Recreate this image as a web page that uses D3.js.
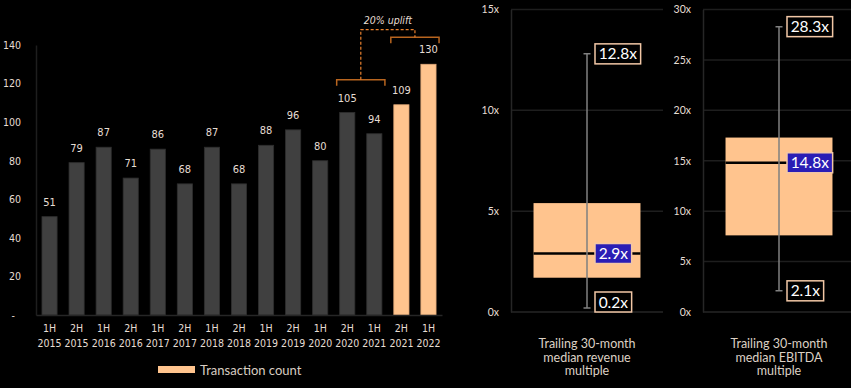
<!DOCTYPE html>
<html lang="en">
<head>
<meta charset="UTF-8">
<title>Transactions and multiples</title>
<script src="https://d3js.org/d3.v7.min.js"></script>
<style>
  body { margin: 0; background: #000; }
  svg { display: block; background: #000; }
  .tahoma { font-family: "DejaVu Sans Condensed", "DejaVu Sans", sans-serif; }
  .gill { font-family: Lato, "Open Sans", sans-serif; }
</style>
</head>
<body>
<script>
// bar chart data
const periods = ['1H 2015', '2H 2015', '1H 2016', '2H 2016', '1H 2017', '2H 2017', '1H 2018', '2H 2018',
                 '1H 2019', '2H 2019', '1H 2020', '2H 2020', '1H 2021', '2H 2021', '1H 2022'];
const counts = [51, 79, 87, 71, 86, 68, 87, 68, 88, 96, 80, 105, 94, 109, 130];
const highlighted = ['2H 2021', '1H 2022'];
const countTicks = [0, 20, 40, 60, 80, 100, 120, 140];
const legendLabel = 'Transaction count';
const upliftLabel = '20% uplift';
const upliftFrom = ['2H 2020', '1H 2021'];
const upliftTo = ['2H 2021', '1H 2022'];

// box plot data
const boxCategories = [['Trailing 30-month', 'median revenue', 'multiple'],
                       ['Trailing 30-month', 'median EBITDA', 'multiple']];
const boxMin = [0.2, 2.1];
const boxQ1 = [1.7, 7.6];
const boxMedian = [2.9, 14.8];
const boxQ3 = [5.4, 17.3];
const boxMax = [12.8, 28.3];
const boxTicks = [[0, 5, 10, 15], [0, 5, 10, 15, 20, 25, 30]];

const W = 851, H = 388;
const peach = '#ffc48e';
const grey = '#404040';
const textCol = '#e6ddd3';

const svg = d3.select('body').append('svg').attr('width', W).attr('height', H);

// ---------- bar chart ----------
const x = d3.scaleBand().domain(periods).range([36, 442]).paddingInner(0.44).paddingOuter(0.22);
const y = d3.scaleLinear().domain([0, 140]).range([315, 45]);

const yAxis = svg.append('g')
  .attr('transform', 'translate(36,0)')
  .call(d3.axisLeft(y).tickValues(countTicks).tickSize(0).tickPadding(15)
    .tickFormat(d => d === 0 ? '-' : d));
yAxis.select('.domain').attr('stroke', '#1e1e1e').attr('stroke-width', 1.5);
yAxis.selectAll('text').attr('class', 'tahoma').attr('font-size', 10.5).attr('fill', textCol)
  .attr('dx', d => d === 0 ? -6 : 0);

svg.selectAll('rect.bar')
  .data(periods)
  .enter()
  .append('rect')
  .attr('class', 'bar')
  .attr('x', d => x(d))
  .attr('y', (d, i) => y(counts[i]))
  .attr('width', x.bandwidth())
  .attr('height', (d, i) => y(0) - y(counts[i]))
  .attr('fill', d => highlighted.includes(d) ? peach : grey)
  .attr('stroke', d => highlighted.includes(d) ? '#e0a878' : '#2e2e2e')
  .attr('stroke-width', 0.8);

svg.selectAll('text.val')
  .data(periods)
  .enter()
  .append('text')
  .attr('class', 'val tahoma')
  .attr('x', d => x(d) + x.bandwidth() / 2)
  .attr('y', (d, i) => y(counts[i]) - 11)
  .attr('text-anchor', 'middle')
  .attr('font-size', 11)
  .attr('fill', textCol)
  .text((d, i) => counts[i]);

const xAxis = svg.append('g')
  .attr('transform', 'translate(0,315)')
  .call(d3.axisBottom(x).tickSize(0).tickFormat(''));
xAxis.select('.domain').attr('stroke', '#262626').attr('stroke-width', 1.5);
xAxis.selectAll('.tick text').remove();
xAxis.selectAll('.tick').each(function (d) {
  const parts = d.split(' ');
  const t = d3.select(this).append('text').attr('class', 'tahoma').attr('font-size', 10.5)
    .attr('fill', textCol).attr('text-anchor', 'middle');
  t.append('tspan').attr('x', 0).attr('y', 17).text(parts[0]);
  t.append('tspan').attr('x', 0).attr('y', 32).text(parts[1]);
});

// uplift brackets
function bracket(cats, level) {
  const x0 = x(cats[0]) - 3;
  const x1 = x(cats[cats.length - 1]) + x.bandwidth() + 3;
  const yy = y(level);
  svg.append('path')
    .attr('d', `M${x0},${yy + 6}V${yy}H${x1}V${yy + 6}`)
    .attr('fill', 'none').attr('stroke', '#b8651f').attr('stroke-width', 1.5);
  return { cx: (x0 + x1) / 2, y: yy };
}
const b1 = bracket(upliftFrom, 122);
const b2 = bracket(upliftTo, 144);
const topY = y(148);
svg.append('path')
  .attr('d', `M${b1.cx},${b1.y}V${topY}H${b2.cx}V${b2.y}`)
  .attr('fill', 'none').attr('stroke', '#e9802e').attr('stroke-width', 1.2)
  .attr('stroke-dasharray', '3,2');
svg.append('text')
  .attr('class', 'tahoma')
  .attr('x', (b1.cx + b2.cx) / 2)
  .attr('y', topY - 6)
  .attr('text-anchor', 'middle')
  .attr('font-size', 10.5)
  .attr('font-style', 'italic')
  .attr('fill', textCol)
  .text(upliftLabel);

// legend
svg.append('rect').attr('x', 158).attr('y', 366).attr('width', 37).attr('height', 7).attr('fill', peach);
svg.append('text').attr('class', 'gill').attr('x', 200).attr('y', 375)
  .attr('font-size', 13).attr('fill', '#d8cdc2').text(legendLabel);

// ---------- box plots ----------
const panels = [[511, 663], [703, 855]];
boxCategories.forEach((cat, i) => {
  const [left, right] = panels[i];
  const top = boxTicks[i][boxTicks[i].length - 1];
  const by = d3.scaleLinear().domain([0, top]).range([312, 9.5]);
  const bx = d3.scaleBand().domain([cat.join(' ')]).range([left, right]).padding(0.174);
  const g = svg.append('g');

  g.selectAll('line.grid').data(boxTicks[i]).enter().append('line')
    .attr('x1', left).attr('x2', right)
    .attr('y1', d => by(d)).attr('y2', d => by(d))
    .attr('stroke', d => d === 0 ? '#262626' : '#1e1e1e').attr('stroke-width', 1.5);

  const ax = g.append('g').attr('transform', `translate(${left},0)`)
    .call(d3.axisLeft(by).tickValues(boxTicks[i]).tickSize(0).tickPadding(12).tickFormat(d => d + 'x'));
  ax.select('.domain').attr('stroke', '#262626').attr('stroke-width', 1.5);
  ax.selectAll('text').attr('class', 'gill').attr('font-size', 10.5).attr('fill', textCol);

  const key = cat.join(' ');
  const cx = bx(key) + bx.bandwidth() / 2;
  g.append('rect')
    .attr('x', bx(key)).attr('width', bx.bandwidth())
    .attr('y', by(boxQ3[i])).attr('height', by(boxQ1[i]) - by(boxQ3[i]))
    .attr('fill', peach);
  g.append('line')
    .attr('x1', bx(key)).attr('x2', bx(key) + bx.bandwidth())
    .attr('y1', by(boxMedian[i])).attr('y2', by(boxMedian[i]))
    .attr('stroke', '#000').attr('stroke-width', 2.5);
  g.append('path')
    .attr('d', `M${cx},${by(boxMax[i])}V${by(boxMin[i])}M${cx - 3.5},${by(boxMax[i])}H${cx + 3.5}M${cx - 3.5},${by(boxMin[i])}H${cx + 3.5}`)
    .attr('fill', 'none').attr('stroke', '#808080').attr('stroke-width', 1.5);

  const labels = [[boxMax[i], '#000'], [boxMedian[i], '#2a1db5'], [boxMin[i], '#000']];
  labels.forEach(([v, fill]) => {
    const lg = g.append('g');
    const box = lg.append('rect');
    const t = lg.append('text').attr('class', 'gill').attr('font-size', 15.5).attr('fill', '#fff')
      .attr('text-anchor', 'middle').text(v.toFixed(1) + 'x');
    const bw = t.node().getBBox().width + 7;
    const bh = 20;
    let cy = by(v);
    if (cy + bh / 2 > by(0)) cy = by(0) - bh / 2;
    const lx = cx + 8;
    box.attr('x', lx).attr('y', cy - bh / 2).attr('width', bw).attr('height', bh)
      .attr('fill', fill).attr('stroke', '#f2c7a6').attr('stroke-width', 1.5);
    t.attr('x', lx + bw / 2).attr('y', cy + 5.5);
  });

  const ct = g.append('text').attr('class', 'gill').attr('font-size', 12.5).attr('fill', '#dcd0c4')
    .attr('text-anchor', 'middle');
  cat.forEach((line, k) => {
    ct.append('tspan').attr('x', cx).attr('y', 348 + k * 13.5).text(line);
  });
});
</script>
</body>
</html>
